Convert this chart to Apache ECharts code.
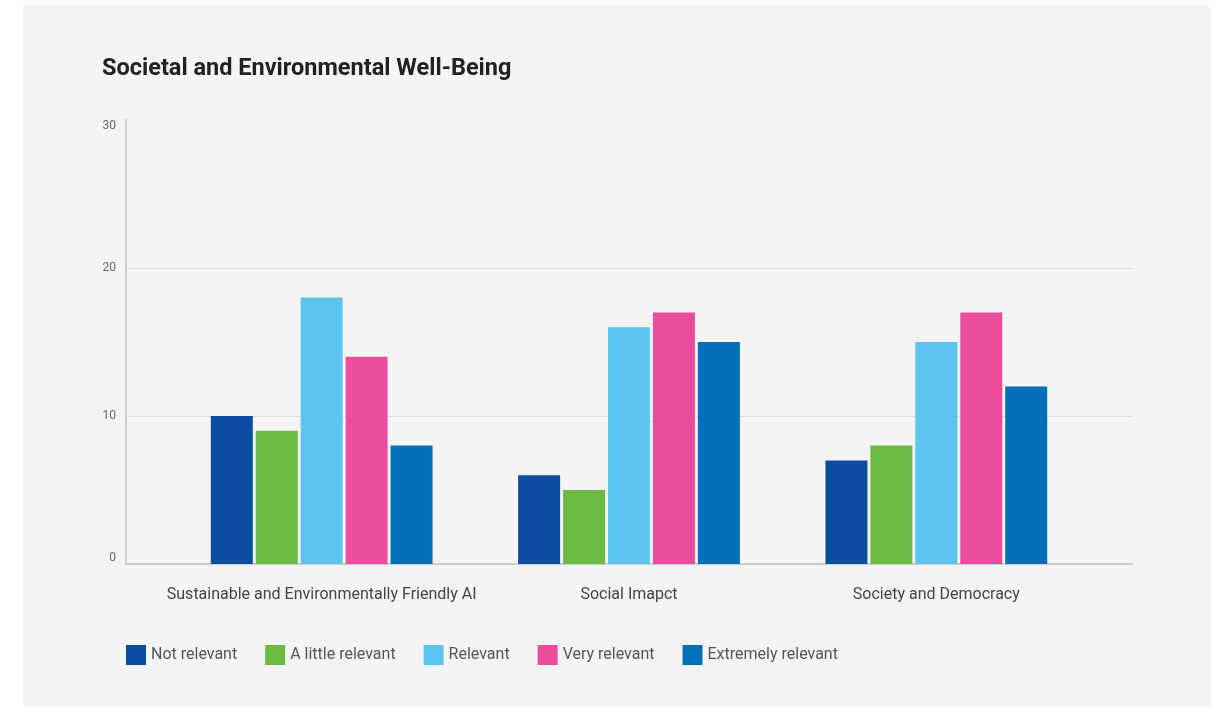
<!DOCTYPE html>
<html>
<head>
<meta charset="utf-8">
<script src="https://cdn.jsdelivr.net/npm/echarts@6/dist/echarts.min.js"></script>
<style>
    html, body { margin: 0; padding: 0; background: #ffffff; }
    #panel { position: absolute; left: 23px; top: 5px; width: 1188px; height: 702px; background: #f4f4f4; }
    #main { position: absolute; left: 0; top: 0; width: 1224px; height: 707px; }
</style>
</head>
<body>
<div id="panel"></div>
<div id="main"></div>
<script>
// societal and environmental well-being
var categories = ["Sustainable and Environmentally Friendly AI", "Social Imapct", "Society and Democracy"];
var seriesNames = ["Not relevant", "A little relevant", "Relevant", "Very relevant", "Extremely relevant"];
var notRelevant = [10, 6, 7];
var littleRelevant = [9, 5, 8];
var relevant = [18, 16, 15];
var veryRelevant = [14, 17, 17];
var extremelyRelevant = [8, 15, 12];
var yTicks = [0, 10, 20, 30];

var colors = ["#0c4da2", "#6cb944", "#5bc4f1", "#ec4c9c", "#0070b8"];
var values = [notRelevant, littleRelevant, relevant, veryRelevant, extremelyRelevant];
var fontFamily = "Roboto";

var myChart = echarts.init(document.getElementById('main'), null, { renderer: 'canvas' });

var series = [];
for (var i = 0; i < seriesNames.length; i++) {
    series.push({
        name: seriesNames[i],
        type: "bar",
        xAxisIndex: 1,
        yAxisIndex: 1,
        barWidth: 42,
        barGap: "7%",
        itemStyle: { color: colors[i] },
        data: values[i]
    });
}

var option = {
    backgroundColor: "transparent",
    textStyle: { fontFamily: fontFamily },
    title: {
        text: "Societal and Environmental Well-Being",
        left: 97,
        top: 52,
        textStyle: { fontFamily: fontFamily, fontSize: 23.5, fontWeight: "bold", color: "#222" }
    },
    legend: {
        left: 121,
        top: 640,
        icon: "rect",
        itemWidth: 20,
        itemHeight: 20,
        itemGap: 28,
        textStyle: { fontSize: 16, color: "#555", fontFamily: fontFamily },
        data: seriesNames
    },
    grid: [
        // frame: y axis, split lines, x axis line
        { left: 126, right: 92, top: 120, bottom: 143 },
        // bars
        { left: 168, right: 134, top: 120, bottom: 143 }
    ],
    xAxis: [{
        type: "value",
        gridIndex: 0,
        min: 0,
        max: 1,
        axisLine: { show: true, lineStyle: { color: "#cccccc", width: 2 } },
        axisTick: { show: false },
        axisLabel: { show: false },
        splitLine: { show: false }
    }, {
        type: "category",
        gridIndex: 1,
        data: categories,
        axisLine: { show: false },
        axisTick: { show: false },
        axisLabel: { interval: 0, margin: 23, fontSize: 16, color: "#444", fontFamily: fontFamily }
    }],
    yAxis: [{
        type: "value",
        gridIndex: 0,
        min: yTicks[0],
        max: yTicks[yTicks.length - 1],
        interval: 10,
        axisLine: { show: true, lineStyle: { color: "#cccccc", width: 2 } },
        axisTick: { show: false },
        axisLabel: {
            margin: 10, fontSize: 12, color: "#666", fontFamily: fontFamily,
            verticalAlignMinLabel: "bottom",
            verticalAlignMaxLabel: "top"
        },
        splitLine: { show: true, showMaxLine: false, lineStyle: { color: "#dddddd" } }
    }, {
        type: "value",
        gridIndex: 1,
        min: yTicks[0],
        max: yTicks[yTicks.length - 1],
        interval: 10,
        axisLine: { show: false },
        axisTick: { show: false },
        axisLabel: { show: false },
        splitLine: { show: false }
    }],
    series: series
};
myChart.setOption(option);
</script>
</body>
</html>
